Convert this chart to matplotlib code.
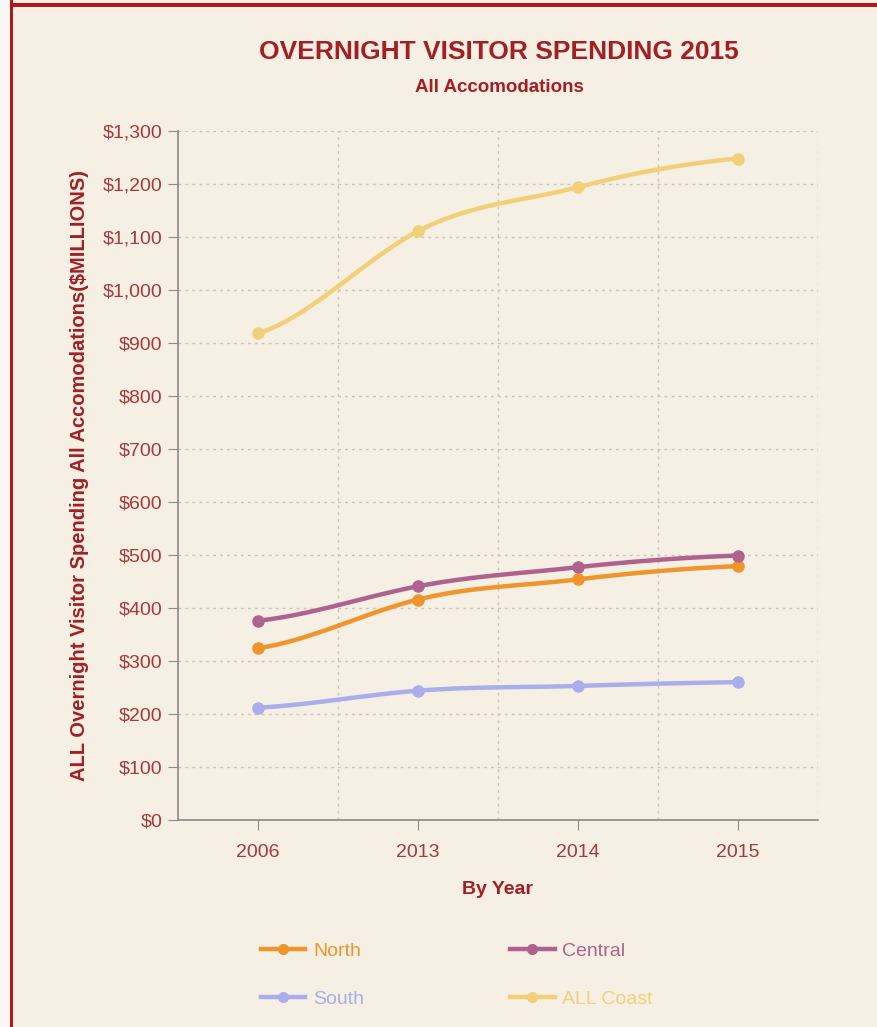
#!/usr/bin/env python3
# -*- coding: utf-8 -*-

import numpy as np
import matplotlib
matplotlib.use('Agg')
import matplotlib.pyplot as plt
from matplotlib.patches import Rectangle
from matplotlib.ticker import FuncFormatter, FixedLocator

plt.rcParams['font.family'] = ['Liberation Sans', 'DejaVu Sans']

years = ['2006', '2013', '2014', '2015']
north = [324, 416, 454, 479]
central = [376, 441, 477, 499]
south = [212, 244, 253, 260]
all_coast = [918, 1111, 1194, 1248]

series = [('North', north, '#f0952b'),
          ('Central', central, '#b0628f'),
          ('South', south, '#aaaeea'),
          ('ALL Coast', all_coast, '#f2cf79')]

bg = '#f5efe4'
red = '#a31f24'
tick_red = '#a8383a'


def spline(x, y, n=40, k=1.15):
    # cardinal-type hermite curve, only used to draw smooth lines between the points
    x = np.asarray(x, float)
    y = np.asarray(y, float)
    yp = np.concatenate([[y[0]], y, [y[-1]]])
    m = k * (yp[2:] - yp[:-2]) / 2
    m[0] = (y[1] - y[0]) / 2
    m[-1] = (y[-1] - y[-2]) / 2
    t = np.linspace(0, 1, n)
    h00 = 2 * t**3 - 3 * t**2 + 1
    h10 = t**3 - 2 * t**2 + t
    h01 = -2 * t**3 + 3 * t**2
    h11 = t**3 - t**2
    xs, ys = [], []
    for i in range(len(x) - 1):
        h = x[i + 1] - x[i]
        xs.append(x[i] + t * h)
        ys.append(h00 * y[i] + h10 * h * m[i] + h01 * y[i + 1] + h11 * h * m[i + 1])
    return np.concatenate(xs), np.concatenate(ys)


fig = plt.figure(figsize=(8.78, 10.27), dpi=100, facecolor=bg)

# page frame
fig.patches.append(Rectangle((0, 0), 10 / 878, 1, transform=fig.transFigure,
                             facecolor='#f8f7f4', edgecolor='none', zorder=0))
fig.patches.append(Rectangle((10 / 878, 0), 2.5 / 878, 1, transform=fig.transFigure,
                             facecolor='#b3161b', edgecolor='none', zorder=1))
fig.patches.append(Rectangle((10 / 878, 1 - 7 / 1027), 1, 4 / 1027, transform=fig.transFigure,
                             facecolor='#b3161b', edgecolor='none', zorder=1))

ax = fig.add_axes([178 / 878, 1 - 820 / 1027, 640 / 878, 689 / 1027])
ax.set_facecolor(bg)

xpos = np.arange(len(years))
for name, vals, col in series:
    sx, sy = spline(xpos, vals)
    ax.plot(sx, sy, color=col, linewidth=3.2, solid_capstyle='round', zorder=3)
    ax.plot(xpos, vals, 'o', color=col, markersize=8, zorder=4, label=name)

ax.set_xlim(-0.5, 3.5)
ax.set_ylim(0, 1300)
ax.set_yticks(np.arange(0, 1301, 100))
ax.yaxis.set_major_formatter(FuncFormatter(lambda v, p: '${:,.0f}'.format(v)))
ax.set_xticks(xpos)
ax.set_xticklabels(years)
ax.xaxis.set_minor_locator(FixedLocator([0.5, 1.5, 2.5, 3.5]))

ax.grid(True, axis='y', which='major', color='#c9c4bb', linestyle=(0, (2, 3)), linewidth=1)
ax.grid(True, axis='x', which='minor', color='#c9c4bb', linestyle=(0, (2, 3)), linewidth=1)
ax.set_axisbelow(True)

for s in ['top', 'right']:
    ax.spines[s].set_visible(False)
for s in ['left', 'bottom']:
    ax.spines[s].set_color('#8c8a85')
    ax.spines[s].set_linewidth(1.2)

ax.tick_params(axis='y', length=7, color='#8c8a85', labelcolor=tick_red, labelsize=14, pad=4)
ax.tick_params(axis='x', which='major', length=7, color='#8c8a85', labelcolor=tick_red, labelsize=14, pad=10)
ax.tick_params(axis='x', which='minor', length=0)

ax.set_xlabel('By Year', fontsize=14, fontweight='bold', color=red, labelpad=15)
ax.set_ylabel('ALL Overnight Visitor Spending All Accomodations($MILLIONS)',
              fontsize=14.5, fontweight='bold', color=red, labelpad=10)

fig.text(499 / 878, 1 - 52 / 1027, 'OVERNIGHT VISITOR SPENDING 2015', ha='center', va='center',
         fontsize=19, fontweight='bold', color=red)
fig.text(499 / 878, 1 - 88 / 1027, 'All Accomodations', ha='center', va='center',
         fontsize=13.5, fontweight='bold', color=red)

# legend is filled column by column, so order it to read North, Central / South, ALL Coast
order = [0, 2, 1, 3]
handles = [plt.Line2D([], [], color=series[i][2], linewidth=3.2, marker='o', markersize=7) for i in order]
leg = fig.legend(handles, [series[i][0] for i in order], loc='upper left', ncol=2,
                 bbox_to_anchor=(243 / 878, 1 - 925 / 1027), frameon=False,
                 fontsize=14, handlelength=2.3, handletextpad=0.4,
                 columnspacing=7.5, labelspacing=1.56)
for txt, i in zip(leg.get_texts(), order):
    txt.set_color(series[i][2])

fig.savefig('out.png', dpi=100, facecolor=bg)
